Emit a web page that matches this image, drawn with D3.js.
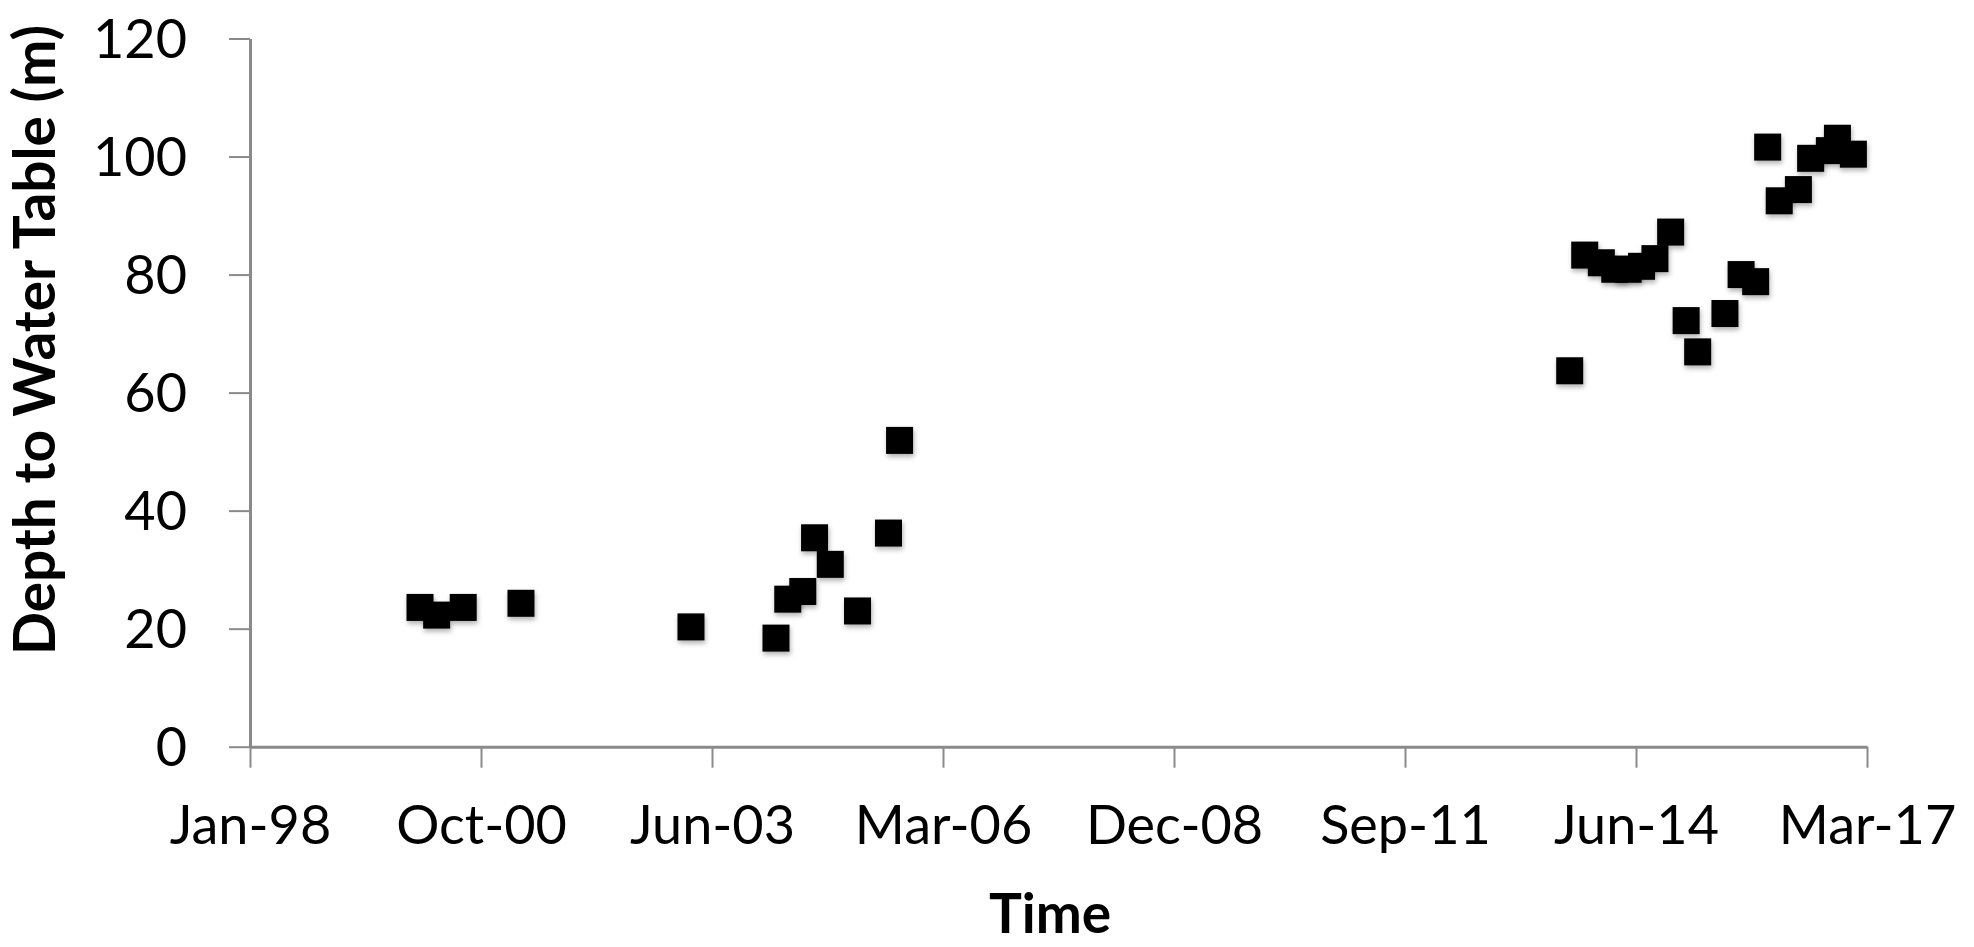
<!DOCTYPE html>
<html>
<head>
<meta charset="utf-8">
<script src="https://cdn.jsdelivr.net/npm/d3@7"></script>
<style>
  body { margin: 0; background: #fff; }
  text { font-family: Lato, "Open Sans", sans-serif; }
</style>
</head>
<body>
<div id="container"></div>
<script>
// Observation dates and depth readings (m)
const dates = ['2000-01-11', '2000-03-23', '2000-07-16', '2001-03-23', '2003-03-29',
    '2004-03-31', '2004-05-21', '2004-07-25', '2004-09-14', '2004-11-21', '2005-03-19',
    '2005-07-31', '2005-09-17', '2013-08-27', '2013-10-31', '2014-01-11', '2014-03-10',
    '2014-05-07', '2014-07-04', '2014-08-31', '2014-11-07', '2015-01-13', '2015-03-04',
    '2015-06-30', '2015-09-08', '2015-11-10', '2016-01-01', '2016-02-20', '2016-05-13',
    '2016-07-05', '2016-09-24', '2016-10-29', '2017-01-06'];
const depths = [23.6, 22.3, 23.6, 24.3, 20.3, 18.4, 25.0, 26.3, 35.4, 30.9, 23.0, 36.2, 51.9,
    63.7, 83.3, 82.0, 80.9, 80.9, 81.4, 82.7, 87.2, 72.2, 66.9, 73.4, 80.0, 78.8,
    101.6, 92.5, 94.4, 99.7, 101.0, 103.1, 100.4];

// Axis ticks
const xTickDates = ['1998-01-05', '2000-10-01', '2003-06-28', '2006-03-24',
    '2008-12-18', '2011-09-14', '2014-06-10', '2017-03-06'];
const yTicks = [0, 20, 40, 60, 80, 100, 120];

const width = 1974;
const height = 947;
const margin = {top: 38.5, right: 107, bottom: 200.3, left: 250};

const parse = d3.utcParse('%Y-%m-%d');
const points = dates.map((d, i) => ({date: parse(d), value: depths[i]}));
const tickDates = xTickDates.map(parse);

const svg = d3.select('#container').append('svg')
    .attr('width', width)
    .attr('height', height);

const defs = svg.append('defs');
defs.append('filter')
    .attr('id', 'shadow')
    .attr('x', '-50%').attr('y', '-50%')
    .attr('width', '200%').attr('height', '200%')
    .append('feDropShadow')
    .attr('dx', 1).attr('dy', 3)
    .attr('stdDeviation', 2.5)
    .attr('flood-color', '#000')
    .attr('flood-opacity', 0.3);

const x = d3.scaleUtc()
    .domain([tickDates[0], tickDates[tickDates.length - 1]])
    .range([margin.left, width - margin.right]);

const y = d3.scaleLinear()
    .domain([0, 120])
    .range([height - margin.bottom, margin.top]);

const axisColor = '#8a8a8a';

// x axis
const xAxis = svg.append('g')
    .attr('transform', `translate(0,${height - margin.bottom})`)
    .call(d3.axisBottom(x)
        .tickValues(tickDates)
        .tickFormat(d3.utcFormat('%b-%y'))
        .tickSize(21)
        .tickSizeOuter(0)
        .tickPadding(38));

// y axis
const yAxis = svg.append('g')
    .attr('transform', `translate(${margin.left},0)`)
    .call(d3.axisLeft(y)
        .tickValues(yTicks)
        .tickSize(21)
        .tickSizeOuter(0)
        .tickPadding(42));

[xAxis, yAxis].forEach(g => {
    g.select('.domain').attr('stroke', axisColor).attr('stroke-width', 3);
    g.selectAll('.tick line').attr('stroke', axisColor).attr('stroke-width', 2);
    g.selectAll('.tick text')
        .attr('fill', '#000')
        .style('font-size', '54px')
        .style('font-family', 'Lato, sans-serif');
});
yAxis.selectAll('.tick text').attr('dy', '0.35em');

// markers
const size = 27;
svg.append('g')
    .selectAll('rect')
    .data(points)
    .enter().append('rect')
    .attr('x', d => x(d.date) - size / 2)
    .attr('y', d => y(d.value) - size / 2)
    .attr('width', size)
    .attr('height', size)
    .attr('fill', '#000')
    .attr('filter', 'url(#shadow)');

// axis titles
svg.append('text')
    .attr('x', 1050)
    .attr('y', 933)
    .attr('text-anchor', 'middle')
    .style('font-size', '55px')
    .style('font-weight', 'bold')
    .text('Time');

svg.append('text')
    .attr('transform', 'translate(55,340) rotate(-90)')
    .attr('text-anchor', 'middle')
    .attr('textLength', 630)
    .attr('lengthAdjust', 'spacingAndGlyphs')
    .style('font-size', '57px')
    .style('font-weight', 'bold')
    .text('Depth to Water Table (m)');
</script>
</body>
</html>
